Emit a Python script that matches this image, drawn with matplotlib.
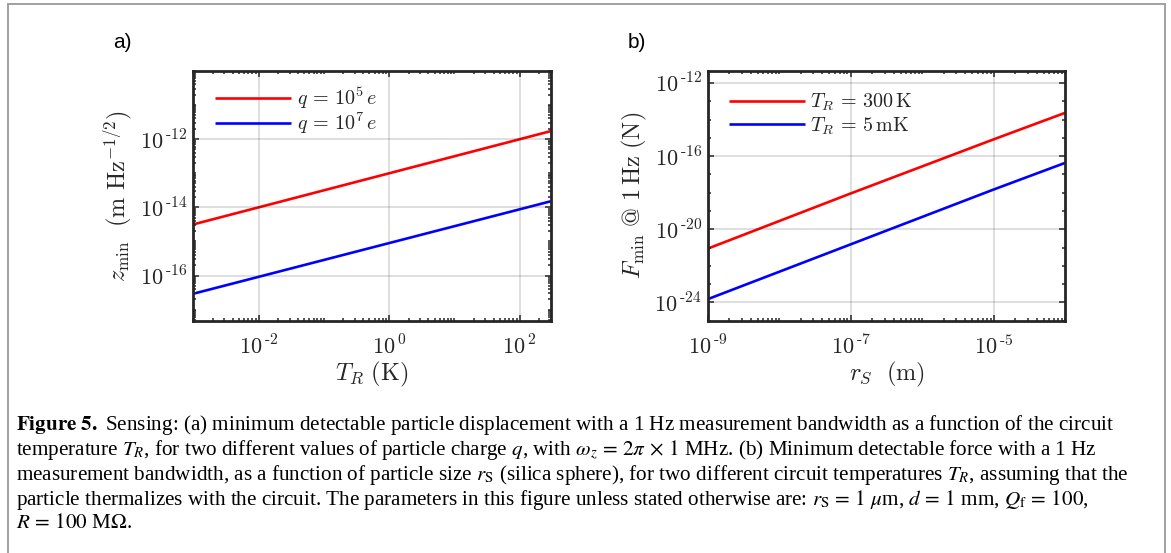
import numpy as np
import matplotlib
matplotlib.use("Agg")
import matplotlib.pyplot as plt
from matplotlib.ticker import FixedLocator, LogLocator, FuncFormatter, NullFormatter
from matplotlib.lines import Line2D

# ---------------- data ----------------
T_R = [1e-3, 300.0]
z_q5 = [3.16e-15, 1.70e-12]
z_q7 = [2.95e-17, 1.50e-14]
labels_a = [r'$q\,=\,10^5\,e$', r'$q\,=\,10^7\,e$']

r_S = [1e-9, 1e-7, 1e-5, 1e-4]
F_300K = [8.7e-22, 9.1e-19, 8.3e-16, 2.34e-14]
F_5mK = [1.5e-24, 1.5e-21, 1.5e-18, 4.3e-17]
labels_b = [r'$T_R\,=\,300\,\mathrm{K}$', r'$T_R\,=\,5\,\mathrm{mK}$']

xticks_a = [1e-2, 1e0, 1e2]
yticks_a = [1e-16, 1e-14, 1e-12]
xticks_b = [1e-9, 1e-7, 1e-5]
yticks_b = [1e-24, 1e-20, 1e-16, 1e-12]

caption_lines = [
    r'$\mathbf{Figure\ 5.}$ Sensing: (a) minimum detectable particle displacement with a 1 Hz measurement bandwidth as a function of the circuit',
    r'temperature $T_R$, for two different values of particle charge $q$, with $\omega_z\,=\,2\pi\,\times\,1$ MHz. (b) Minimum detectable force with a 1 Hz',
    r'measurement bandwidth, as a function of particle size $r_\mathrm{S}$ (silica sphere), for two different circuit temperatures $T_R$, assuming that the',
    r'particle thermalizes with the circuit. The parameters in this figure unless stated otherwise are: $r_\mathrm{S}\,=\,1\ \mu$m, $d\,=\,1$ mm, $Q_\mathrm{f}\,=\,100$,',
    r'$R\,=\,100$ M$\Omega$.',
]

# ---------------- style ----------------
W, H = 1171, 553
DPI = 100
TXT = '#262626'
fig = plt.figure(figsize=(W / DPI, H / DPI), dpi=DPI)
fig.patch.set_facecolor('white')

def fx(px):
    return px / W

def fy(py):
    return 1 - py / H

def pow_fmt(v, pos):
    e = int(round(np.log10(v)))
    if e < 0:
        return r'$10^{\,\text{-}%d}$' % (-e)
    return r'$10^{\,%d}$' % e

def style_axes(ax, xt, yt, yminor_subs):
    ax.set_xscale('log')
    ax.set_yscale('log')
    ax.xaxis.set_major_locator(FixedLocator(xt))
    ax.yaxis.set_major_locator(FixedLocator(yt))
    ax.xaxis.set_minor_locator(LogLocator(base=10, subs=np.arange(1, 10), numticks=1000))
    ax.yaxis.set_minor_locator(LogLocator(base=10, subs=yminor_subs, numticks=1000))
    ax.xaxis.set_minor_formatter(NullFormatter())
    ax.yaxis.set_minor_formatter(NullFormatter())
    ax.xaxis.set_major_formatter(FuncFormatter(pow_fmt))
    ax.yaxis.set_major_formatter(FuncFormatter(pow_fmt))
    ax.tick_params(which='both', direction='in', top=True, right=True,
                   color=TXT, width=1.1)
    ax.tick_params(which='major', length=4.0)
    ax.tick_params(which='minor', length=2.2)
    ax.tick_params(axis='x', which='major', pad=10, labelsize=16, labelcolor=TXT)
    ax.tick_params(axis='y', which='major', pad=4, labelsize=16, labelcolor=TXT)
    for lab in ax.get_xticklabels() + ax.get_yticklabels():
        lab.set_math_fontfamily('cm')
    for s in ax.spines.values():
        s.set_linewidth(2.0)
        s.set_color(TXT)
    ax.grid(True, which='major', color=(0.15, 0.15, 0.15), alpha=0.15, linewidth=1.4)
    ax.set_axisbelow(False)

def style_legend(leg):
    for t in leg.get_texts():
        t.set_math_fontfamily('cm')
        t.set_color(TXT)

LEG_KW = dict(loc='upper left', frameon=False, handlelength=3.75, handletextpad=0.28,
              borderpad=0, borderaxespad=0, prop={'size': 14.5})

# ---------------- panel a ----------------
ax1 = fig.add_axes([fx(193.3), fy(320.7), fx(550.7 - 193.3), (320.7 - 70.7) / H])
ax1.plot(T_R, z_q5, color='#ff0000', lw=1.9, label=labels_a[0], solid_capstyle='butt')
ax1.plot(T_R, z_q7, color='#0000ff', lw=1.9, label=labels_a[1], solid_capstyle='butt')
ax1.set_xlim(1e-3, 300)
ax1.set_ylim(10 ** -17.32, 1e-10)
style_axes(ax1, xticks_a, yticks_a, np.arange(1, 10))
ax1.set_xlabel(r'$T_R\ (\mathrm{K})$', fontsize=17.5, color=TXT, math_fontfamily='cm', labelpad=1)
ax1.set_ylabel(r'$z_\mathrm{min}\ \ (\mathrm{m\ Hz}^{-1/2})$', fontsize=17.5, color=TXT,
               math_fontfamily='cm', labelpad=4)
leg1 = ax1.legend(bbox_to_anchor=(0.062, 0.94), labelspacing=-0.05, **LEG_KW)
style_legend(leg1)

# ---------------- panel b ----------------
ax2 = fig.add_axes([fx(707.7), fy(320.7), fx(1065.3 - 707.7), (320.7 - 70.7) / H])
ax2.plot(r_S, F_300K, color='#ff0000', lw=1.9, label=labels_b[0], solid_capstyle='butt')
ax2.plot(r_S, F_5mK, color='#0000ff', lw=1.9, label=labels_b[1], solid_capstyle='butt')
ax2.set_xlim(1e-9, 1e-4)
ax2.set_ylim(1e-25, 10 ** -11.33)
style_axes(ax2, xticks_b, yticks_b, (1.0,))
ax2.set_xlabel(r'$r_S\ \ (\mathrm{m})$', fontsize=17.5, color=TXT, math_fontfamily='cm', labelpad=1)
ax2.set_ylabel(r'$F_\mathrm{min}\ @\ 1\,\mathrm{Hz}\ (\mathrm{N})$', fontsize=17.5, color=TXT,
               math_fontfamily='cm', labelpad=4)
leg2 = ax2.legend(bbox_to_anchor=(0.06, 0.915), labelspacing=0.1, **LEG_KW)
style_legend(leg2)

# panel letters
fig.text(fx(113), fy(42), 'a)', fontsize=15, family='Liberation Sans', va='center', ha='left', color='black')
fig.text(fx(628), fy(42), 'b)', fontsize=15, family='Liberation Sans', va='center', ha='left', color='black')

# outer frame (top, left, right)
fig.add_artist(Line2D([fx(8), fx(1165)], [fy(4), fy(4)], color='#a0a0a0', lw=1.4))
fig.add_artist(Line2D([fx(8), fx(8)], [fy(4), fy(560)], color='#a0a0a0', lw=1.4))
fig.add_artist(Line2D([fx(1165), fx(1165)], [fy(4), fy(560)], color='#a0a0a0', lw=1.4))

# ---------------- caption ----------------
cap_y = [425, 450, 475, 499.5, 524]
cap_texts = []
for s, yy in zip(caption_lines, cap_y):
    t = fig.text(fx(16), fy(yy), s, fontsize=13, family='Liberation Serif',
                 math_fontfamily='stix', va='center', ha='left', color='black')
    cap_texts.append(t)
fig.canvas.draw()
r = fig.canvas.get_renderer()
w0 = cap_texts[0].get_window_extent(r).width
scale = (1113 - 16) / w0
for t in cap_texts:
    t.set_fontsize(13 * scale)

fig.savefig('out.png', dpi=DPI, facecolor='white')
